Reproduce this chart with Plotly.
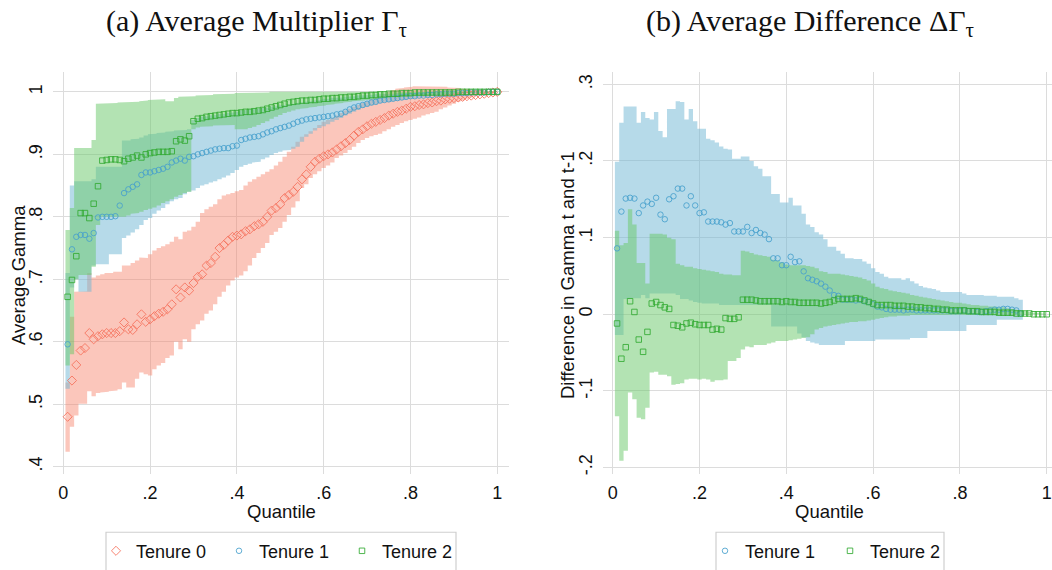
import plotly.graph_objects as go

W, H = 1052, 570

quantile = [0.01,0.02,0.03,0.04,0.05,0.06,0.07,0.08,0.09,0.10,
            0.11,0.12,0.13,0.14,0.15,0.16,0.17,0.18,0.19,0.20,
            0.21,0.22,0.23,0.24,0.25,0.26,0.27,0.28,0.29,0.30,
            0.31,0.32,0.33,0.34,0.35,0.36,0.37,0.38,0.39,0.40,
            0.41,0.42,0.43,0.44,0.45,0.46,0.47,0.48,0.49,0.50,
            0.51,0.52,0.53,0.54,0.55,0.56,0.57,0.58,0.59,0.60,
            0.61,0.62,0.63,0.64,0.65,0.66,0.67,0.68,0.69,0.70,
            0.71,0.72,0.73,0.74,0.75,0.76,0.77,0.78,0.79,0.80,
            0.81,0.82,0.83,0.84,0.85,0.86,0.87,0.88,0.89,0.90,
            0.91,0.92,0.93,0.94,0.95,0.96,0.97,0.98,0.99,1.00]

# ---------------- Panel (a): Average Gamma ----------------
t0_mean = [0.480,0.538,0.563,0.586,0.590,0.614,0.604,0.609,0.612,0.614,
           0.614,0.614,0.617,0.631,0.620,0.619,0.628,0.644,0.632,0.636,
           0.641,0.645,0.648,0.652,0.660,0.684,0.671,0.687,0.682,0.694,
           0.704,0.708,0.722,0.726,0.736,0.750,0.755,0.762,0.768,0.770,
           0.772,0.777,0.780,0.785,0.788,0.792,0.800,0.810,0.814,0.820,
           0.830,0.835,0.840,0.848,0.860,0.868,0.880,0.888,0.893,0.897,
           0.900,0.903,0.908,0.913,0.918,0.923,0.930,0.936,0.940,0.945,
           0.949,0.952,0.955,0.958,0.962,0.965,0.968,0.970,0.973,0.976,
           0.977,0.979,0.980,0.982,0.983,0.985,0.986,0.988,0.989,0.990,
           0.991,0.992,0.993,0.994,0.995,0.996,0.997,0.998,0.999,1.000]
t0_lo = [0.424,0.464,0.482,0.501,0.501,0.521,0.513,0.518,0.519,0.520,
         0.521,0.522,0.524,0.535,0.527,0.527,0.541,0.551,0.548,0.546,
         0.556,0.562,0.566,0.574,0.578,0.600,0.588,0.604,0.600,0.620,
         0.628,0.634,0.645,0.650,0.660,0.672,0.680,0.690,0.698,0.703,
         0.706,0.713,0.722,0.734,0.742,0.750,0.758,0.771,0.776,0.782,
         0.792,0.803,0.815,0.825,0.846,0.852,0.862,0.868,0.873,0.878,
         0.882,0.887,0.894,0.898,0.902,0.907,0.912,0.918,0.923,0.926,
         0.929,0.931,0.933,0.937,0.940,0.944,0.947,0.950,0.953,0.955,
         0.957,0.959,0.962,0.964,0.966,0.968,0.972,0.975,0.978,0.981,
         0.984,0.986,0.989,0.991,0.993,0.995,0.997,0.998,0.999,1.000]
t0_hi = [0.535,0.640,0.680,0.680,0.681,0.710,0.703,0.706,0.708,0.710,
         0.710,0.712,0.712,0.722,0.722,0.726,0.730,0.735,0.734,0.740,
         0.746,0.750,0.753,0.756,0.760,0.768,0.764,0.776,0.778,0.784,
         0.792,0.806,0.812,0.816,0.820,0.828,0.834,0.836,0.838,0.841,
         0.843,0.850,0.856,0.860,0.864,0.868,0.872,0.876,0.882,0.888,
         0.896,0.904,0.912,0.920,0.928,0.932,0.937,0.942,0.947,0.952,
         0.955,0.958,0.962,0.966,0.970,0.973,0.976,0.979,0.982,0.985,
         0.988,0.991,0.994,0.997,1.000,1.003,1.005,1.006,1.007,1.008,
         1.009,1.009,1.009,1.009,1.009,1.009,1.008,1.008,1.007,1.006,
         1.006,1.005,1.004,1.004,1.003,1.003,1.002,1.001,1.001,1.000]

t1_mean = [0.596,0.748,0.768,0.771,0.771,0.765,0.774,0.799,0.800,0.800,
           0.800,0.801,0.818,0.838,0.844,0.848,0.852,0.867,0.871,0.871,
           0.873,0.875,0.877,0.880,0.887,0.890,0.893,0.890,0.896,0.897,
           0.900,0.902,0.904,0.906,0.908,0.909,0.910,0.910,0.913,0.914,
           0.923,0.925,0.927,0.928,0.929,0.932,0.935,0.937,0.940,0.942,
           0.944,0.946,0.949,0.952,0.954,0.956,0.957,0.958,0.959,0.960,
           0.961,0.962,0.964,0.965,0.968,0.972,0.975,0.977,0.979,0.981,
           0.983,0.984,0.986,0.987,0.988,0.989,0.990,0.991,0.992,0.993,
           0.993,0.994,0.994,0.995,0.995,0.996,0.996,0.997,0.997,0.997,
           0.998,0.998,0.998,0.999,0.999,0.999,0.999,1.000,1.000,1.000]
t1_lo = [0.525,0.687,0.700,0.680,0.680,0.680,0.722,0.724,0.724,0.724,
         0.740,0.740,0.740,0.766,0.770,0.775,0.780,0.787,0.795,0.798,
         0.805,0.810,0.814,0.820,0.825,0.828,0.830,0.836,0.840,0.842,
         0.846,0.850,0.852,0.855,0.857,0.860,0.863,0.866,0.870,0.875,
         0.880,0.883,0.885,0.887,0.888,0.892,0.895,0.899,0.902,0.904,
         0.906,0.907,0.909,0.912,0.920,0.928,0.933,0.938,0.942,0.945,
         0.948,0.952,0.955,0.958,0.962,0.965,0.968,0.971,0.974,0.976,
         0.978,0.980,0.982,0.983,0.984,0.985,0.986,0.987,0.988,0.989,
         0.990,0.991,0.992,0.992,0.993,0.994,0.994,0.995,0.995,0.996,
         0.996,0.997,0.997,0.998,0.998,0.998,0.999,0.999,1.000,1.000]
t1_hi = [0.710,0.850,0.857,0.857,0.857,0.857,0.860,0.880,0.880,0.880,
         0.880,0.880,0.880,0.922,0.922,0.924,0.925,0.927,0.930,0.932,
         0.933,0.934,0.935,0.936,0.937,0.938,0.939,0.939,0.940,0.955,
         0.958,0.960,0.961,0.962,0.963,0.964,0.965,0.966,0.967,0.968,
         0.970,0.971,0.972,0.972,0.973,0.974,0.975,0.976,0.977,0.978,
         0.979,0.980,0.981,0.982,0.983,0.984,0.985,0.986,0.987,0.988,
         0.989,0.990,0.990,0.991,0.992,0.992,0.993,0.994,0.994,0.995,
         0.995,0.996,0.996,0.997,0.997,0.997,0.998,0.998,0.998,0.999,
         0.999,0.999,0.999,1.000,1.000,1.000,1.000,1.000,1.000,1.000,
         1.000,1.000,1.000,1.000,1.000,1.000,1.000,1.000,1.000,1.000]

t2_mean = [0.672,0.699,0.737,0.806,0.806,0.798,0.821,0.849,0.890,0.891,
           0.892,0.892,0.891,0.889,0.893,0.895,0.898,0.895,0.900,0.902,
           0.903,0.904,0.904,0.904,0.905,0.921,0.924,0.922,0.929,0.953,
           0.957,0.958,0.960,0.961,0.962,0.963,0.964,0.965,0.966,0.966,
           0.967,0.968,0.968,0.969,0.970,0.971,0.973,0.975,0.977,0.979,
           0.981,0.983,0.984,0.985,0.986,0.986,0.987,0.987,0.988,0.989,
           0.989,0.990,0.990,0.991,0.991,0.992,0.992,0.993,0.994,0.994,
           0.995,0.995,0.996,0.996,0.997,0.997,0.997,0.998,0.998,0.998,
           0.999,0.999,0.999,0.999,0.999,0.999,0.999,0.999,0.999,0.999,
           1.000,1.000,1.000,1.000,1.000,1.000,1.000,1.000,1.000,1.000]
t2_lo = [0.562,0.580,0.700,0.707,0.707,0.707,0.720,0.787,0.800,0.800,
         0.800,0.800,0.800,0.800,0.802,0.805,0.806,0.808,0.811,0.813,
         0.815,0.818,0.822,0.825,0.828,0.832,0.835,0.838,0.840,0.940,
         0.943,0.944,0.945,0.945,0.946,0.946,0.947,0.947,0.947,0.940,
         0.939,0.940,0.942,0.944,0.947,0.950,0.953,0.957,0.960,0.963,
         0.966,0.968,0.970,0.972,0.973,0.974,0.975,0.976,0.977,0.978,
         0.979,0.980,0.981,0.982,0.983,0.984,0.985,0.986,0.986,0.987,
         0.988,0.988,0.989,0.990,0.990,0.991,0.991,0.992,0.992,0.993,
         0.993,0.994,0.994,0.995,0.995,0.996,0.996,0.996,0.997,0.997,
         0.997,0.998,0.998,0.998,0.999,0.999,0.999,0.999,1.000,1.000]
t2_hi = [0.779,0.814,0.910,0.910,0.910,0.910,0.923,0.981,0.981,0.981,
         0.982,0.982,0.983,0.983,0.984,0.984,0.984,0.985,0.986,0.987,
         0.987,0.988,0.988,0.985,0.985,0.990,0.992,0.992,0.992,0.993,
         0.994,0.994,0.995,0.995,0.996,0.996,0.997,0.997,0.997,0.998,
         0.998,0.998,0.998,0.999,0.999,0.999,0.999,1.000,1.000,1.000,
         1.000,1.000,1.000,1.000,1.000,1.000,1.000,1.000,1.000,1.000,
         1.000,1.000,1.000,1.000,1.000,1.000,1.000,1.000,1.000,1.000,
         1.000,1.000,1.000,1.000,1.000,1.000,1.000,1.000,1.000,1.000,
         1.000,1.000,1.000,1.000,1.000,1.000,1.000,1.000,1.000,1.000,
         1.000,1.000,1.000,1.000,1.000,1.000,1.000,1.000,1.000,1.000]

# ---------------- Panel (b): Difference in Gamma ----------------
N6 = [None] * 6
d1_mean = [0.086,0.134,0.151,0.152,0.151,0.132,0.142,0.147,0.144,0.152,
           0.130,0.124,0.150,0.154,0.164,0.164,0.142,0.154,0.142,0.132,
           0.133,0.121,0.121,0.121,0.120,0.117,0.119,0.108,0.108,0.108,
           0.114,0.106,0.110,0.106,0.104,0.098,0.073,0.073,0.064,0.064,
           0.075,0.068,0.069,0.056,0.047,0.045,0.043,0.040,0.036,0.031,
           0.025,0.024,0.019,0.019,0.019,0.018,0.019,0.017,0.016,0.013,
           0.010,0.009,0.007,0.006,0.006,0.006,0.005,0.006,0.006,0.005,
           0.005,0.005,0.005,0.005,0.005,0.005,0.005,0.004,0.004,0.004,
           0.005,0.004,0.004,0.003,0.003,0.004,0.005,0.006,0.006,0.007,
           0.007,0.006,0.005,0.001] + N6
d1_lo = [-0.027,-0.027,0.020,0.021,0.021,0.021,0.025,0.021,0.027,0.027,
         0.027,0.027,0.027,0.027,0.025,0.020,0.020,0.018,0.016,0.015,
         0.014,0.014,0.014,0.014,0.012,0.012,0.012,0.012,0.012,0.012,
         0.012,0.012,0.012,0.012,0.012,0.012,-0.016,-0.016,-0.016,-0.016,
         -0.016,-0.016,-0.025,-0.030,-0.035,-0.037,-0.038,-0.040,-0.040,-0.040,
         -0.040,-0.040,-0.040,-0.035,-0.035,-0.035,-0.035,-0.035,-0.035,-0.035,
         -0.033,-0.033,-0.033,-0.033,-0.033,-0.033,-0.033,-0.033,-0.031,-0.031,
         -0.031,-0.031,-0.022,-0.022,-0.022,-0.022,-0.022,-0.022,-0.022,-0.022,
         -0.022,-0.014,-0.014,-0.014,-0.014,-0.014,-0.014,-0.014,-0.007,-0.007,
         -0.007,-0.007,-0.007,-0.007] + N6
d1_hi = [0.199,0.250,0.271,0.271,0.271,0.250,0.264,0.256,0.254,0.264,
         0.239,0.231,0.268,0.268,0.278,0.277,0.254,0.268,0.252,0.242,
         0.242,0.229,0.227,0.224,0.219,0.216,0.215,0.203,0.203,0.206,
         0.206,0.200,0.193,0.190,0.180,0.180,0.157,0.157,0.146,0.146,
         0.152,0.142,0.142,0.131,0.117,0.114,0.107,0.104,0.098,0.088,
         0.088,0.083,0.079,0.073,0.073,0.072,0.072,0.069,0.066,0.060,
         0.055,0.053,0.049,0.047,0.047,0.047,0.045,0.047,0.043,0.040,
         0.037,0.035,0.034,0.033,0.031,0.029,0.029,0.029,0.029,0.029,
         0.027,0.025,0.025,0.025,0.025,0.024,0.024,0.024,0.023,0.023,
         0.023,0.023,0.021,0.019] + N6

d2_mean = [-0.012,-0.058,-0.043,0.017,0.003,-0.033,-0.049,-0.023,0.014,0.016,
           0.012,0.009,0.007,-0.014,-0.015,-0.017,-0.012,-0.011,-0.013,-0.014,
           -0.014,-0.014,-0.020,-0.019,-0.020,-0.005,-0.006,-0.006,-0.004,0.019,
           0.019,0.019,0.018,0.017,0.017,0.017,0.017,0.017,0.016,0.017,
           0.016,0.016,0.015,0.015,0.015,0.015,0.015,0.014,0.015,0.016,
           0.018,0.020,0.020,0.020,0.020,0.021,0.020,0.018,0.016,0.014,
           0.012,0.012,0.012,0.012,0.011,0.011,0.011,0.010,0.010,0.009,
           0.009,0.008,0.008,0.007,0.007,0.006,0.006,0.005,0.005,0.005,
           0.005,0.004,0.004,0.004,0.003,0.003,0.003,0.003,0.002,0.002,
           0.002,0.002,0.001,0.001,0.001,0.001,0.000,0.000,0.000,0.000]
d2_lo = [-0.133,-0.191,-0.178,-0.102,-0.111,-0.135,-0.137,-0.122,-0.076,-0.075,
         -0.079,-0.079,-0.081,-0.092,-0.091,-0.090,-0.085,-0.084,-0.084,-0.085,
         -0.084,-0.085,-0.088,-0.086,-0.086,-0.085,-0.061,-0.061,-0.057,-0.046,
         -0.042,-0.043,-0.040,-0.040,-0.040,-0.038,-0.037,-0.035,-0.035,-0.035,
         -0.034,-0.033,-0.032,-0.031,-0.030,-0.026,-0.020,-0.018,-0.016,-0.015,
         -0.014,-0.013,-0.012,-0.011,-0.010,-0.010,-0.009,-0.009,-0.008,-0.007,
         -0.006,-0.005,-0.004,-0.003,-0.003,-0.002,-0.002,-0.002,-0.001,-0.001,
         -0.001,-0.001,-0.001,-0.001,-0.001,-0.001,-0.001,-0.001,-0.001,-0.001,
         -0.001,-0.001,-0.001,-0.001,-0.001,-0.001,-0.001,-0.001,-0.001,-0.001,
         -0.001,-0.001,-0.001,-0.001,-0.001,-0.001,0.000,0.000,0.000,0.000]
d2_hi = [0.109,0.090,0.093,0.137,0.117,0.067,0.067,0.040,0.105,0.105,
         0.105,0.104,0.100,0.098,0.066,0.064,0.062,0.062,0.060,0.059,
         0.058,0.057,0.056,0.055,0.053,0.052,0.052,0.051,0.051,0.083,
         0.082,0.080,0.078,0.077,0.076,0.075,0.071,0.070,0.068,0.065,
         0.064,0.064,0.064,0.064,0.063,0.062,0.060,0.056,0.055,0.053,
         0.053,0.053,0.052,0.051,0.050,0.049,0.048,0.046,0.044,0.040,
         0.036,0.034,0.033,0.031,0.030,0.029,0.028,0.027,0.025,0.024,
         0.023,0.022,0.021,0.020,0.019,0.018,0.017,0.016,0.015,0.015,
         0.014,0.013,0.012,0.012,0.011,0.011,0.010,0.010,0.009,0.009,
         0.008,0.007,0.006,0.005,0.004,0.003,0.002,0.002,0.001,0.000]

x_ticks = [0, 0.2, 0.4, 0.6, 0.8, 1]
x_ticktext = ["0", ".2", ".4", ".6", ".8", "1"]
ya_ticks = [0.4, 0.5, 0.6, 0.7, 0.8, 0.9, 1.0]
ya_ticktext = [".4", ".5", ".6", ".7", ".8", ".9", "1"]
yb_ticks = [-0.2, -0.1, 0, 0.1, 0.2, 0.3]
yb_ticktext = ["-.2", "-.1", "0", ".1", ".2", ".3"]

# ---------------- styles ----------------
SALMON_BAND = "rgba(247,128,104,0.45)"
BLUE_BAND = "rgba(110,182,212,0.50)"
GREEN_BAND = "rgba(104,200,104,0.50)"
SALMON = "rgba(246,112,90,0.85)"
BLUE = "rgba(70,160,205,0.85)"
GREEN = "rgba(50,170,50,0.85)"
FONT = "Liberation Sans, Arial, sans-serif"
SERIF = "Liberation Serif, Times New Roman, serif"
HALF = 0.005  # half of the quantile step: each CI is a bar one step wide


def band(lo, hi, color, xa, ya):
    """Step-shaped CI band (one bar per quantile) as a single filled polygon."""
    rows = [(q, l, h) for q, l, h in zip(quantile, lo, hi) if l is not None and h is not None]
    xs, ys = [], []
    for q, l, h in rows:
        xs += [q - HALF, q + HALF]
        ys += [h, h]
    for q, l, h in reversed(rows):
        xs += [q + HALF, q - HALF]
        ys += [l, l]
    return go.Scatter(x=xs, y=ys, mode="lines", fill="toself", fillcolor=color,
                      line=dict(width=0, color=color), xaxis=xa, yaxis=ya,
                      showlegend=False, hoverinfo="skip")


def pts(y, symbol, color, size, name, xa, ya, leg):
    return go.Scatter(x=quantile, y=y, mode="markers", name=name,
                      marker=dict(symbol=symbol, size=size, color=color,
                                  line=dict(width=1, color=color)),
                      xaxis=xa, yaxis=ya, legend=leg)


fig = go.Figure()
fig.add_trace(band(t0_lo, t0_hi, SALMON_BAND, "x", "y"))
fig.add_trace(band(t1_lo, t1_hi, BLUE_BAND, "x", "y"))
fig.add_trace(band(t2_lo, t2_hi, GREEN_BAND, "x", "y"))
fig.add_trace(pts(t0_mean, "diamond-open", SALMON, 7, "Tenure 0", "x", "y", "legend"))
fig.add_trace(pts(t1_mean, "circle-open", BLUE, 5.5, "Tenure 1", "x", "y", "legend"))
fig.add_trace(pts(t2_mean, "square-open", GREEN, 5.5, "Tenure 2", "x", "y", "legend"))

fig.add_trace(band(d1_lo, d1_hi, BLUE_BAND, "x2", "y2"))
fig.add_trace(band(d2_lo, d2_hi, GREEN_BAND, "x2", "y2"))
fig.add_trace(pts(d1_mean, "circle-open", BLUE, 5.5, "Tenure 1", "x2", "y2", "legend2"))
fig.add_trace(pts(d2_mean, "square-open", GREEN, 5.5, "Tenure 2", "x2", "y2", "legend2"))

GRID = "#dcdcdc"
TICKFONT = dict(family=FONT, size=18, color="#111")
ydom = [1 - 477 / H, 1 - 73 / H]
common_x = dict(showgrid=True, gridcolor=GRID, gridwidth=1.4, zeroline=False,
                showline=False, ticks="", tickfont=TICKFONT,
                tickvals=x_ticks, ticktext=x_ticktext, ticklabelstandoff=6,
                fixedrange=True)
common_y = dict(showgrid=True, gridcolor=GRID, gridwidth=1.4, zeroline=False,
                showline=False, ticks="", tickangle=-90, tickfont=TICKFONT,
                ticklabelstandoff=6, fixedrange=True)

LEGFONT = dict(family=FONT, size=18, color="#111")
AXFONT = dict(family=FONT, size=18.5, color="#111")
TITLEFONT = dict(family=SERIF, size=30, color="#111")

fig.update_layout(
    width=W, height=H,
    margin=dict(l=0, r=0, t=0, b=0),
    paper_bgcolor="white", plot_bgcolor="white",
    font=dict(family=FONT, size=18, color="#111"),
    xaxis=dict(domain=[53 / W, 509 / W], range=[-0.0237, 1.027], anchor="y", **common_x),
    yaxis=dict(domain=ydom, range=[0.389, 1.031], anchor="x",
               tickvals=ya_ticks, ticktext=ya_ticktext, **common_y),
    xaxis2=dict(domain=[603 / W, 1.0], range=[-0.0224, 1.0122], anchor="y2", **common_x),
    yaxis2=dict(domain=ydom, range=[-0.208, 0.3155], anchor="x2",
                tickvals=yb_ticks, ticktext=yb_ticktext, **common_y),
    legend=dict(orientation="h", x=96 / W, xanchor="left", y=1 - 555 / H, yanchor="middle",
                font=LEGFONT, bgcolor="rgba(0,0,0,0)", entrywidth=78, entrywidthmode="pixels",
                borderwidth=0, itemclick=False, itemdoubleclick=False),
    legend2=dict(orientation="h", x=705 / W, xanchor="left", y=1 - 555 / H, yanchor="middle",
                 font=LEGFONT, bgcolor="rgba(0,0,0,0)", entrywidth=80, entrywidthmode="pixels",
                 borderwidth=0, itemclick=False, itemdoubleclick=False),
    shapes=[
        dict(type="rect", xref="paper", yref="paper", x0=106 / W, x1=456 / W,
             y0=-0.1, y1=1 - 536 / H, line=dict(color="#cfcfcf", width=1.2), fillcolor="rgba(0,0,0,0)"),
        dict(type="rect", xref="paper", yref="paper", x0=716 / W, x1=944 / W,
             y0=-0.1, y1=1 - 536 / H, line=dict(color="#cfcfcf", width=1.2), fillcolor="rgba(0,0,0,0)"),
    ],
    annotations=[
        dict(text="(a) Average Multiplier Γ<sub>τ</sub>", x=256 / W, y=1 - 23 / H,
             xref="paper", yref="paper", showarrow=False, xanchor="center", yanchor="middle",
             font=TITLEFONT),
        dict(text="(b) Average Difference ΔΓ<sub>τ</sub>", x=810 / W, y=1 - 23 / H,
             xref="paper", yref="paper", showarrow=False, xanchor="center", yanchor="middle",
             font=TITLEFONT),
        dict(text="Average Gamma", x=18 / W, y=1 - 277 / H, textangle=-90,
             xref="paper", yref="paper", showarrow=False, xanchor="center", yanchor="middle",
             font=AXFONT),
        dict(text="Difference in Gamma t and t-1", x=567 / W, y=1 - 278 / H, textangle=-90,
             xref="paper", yref="paper", showarrow=False, xanchor="center", yanchor="middle",
             font=AXFONT),
        dict(text="Quantile", x=281 / W, y=1 - 515 / H,
             xref="paper", yref="paper", showarrow=False, xanchor="center", yanchor="middle",
             font=AXFONT),
        dict(text="Quantile", x=829 / W, y=1 - 515 / H,
             xref="paper", yref="paper", showarrow=False, xanchor="center", yanchor="middle",
             font=AXFONT),
    ],
)

fig.write_html("out.html")
